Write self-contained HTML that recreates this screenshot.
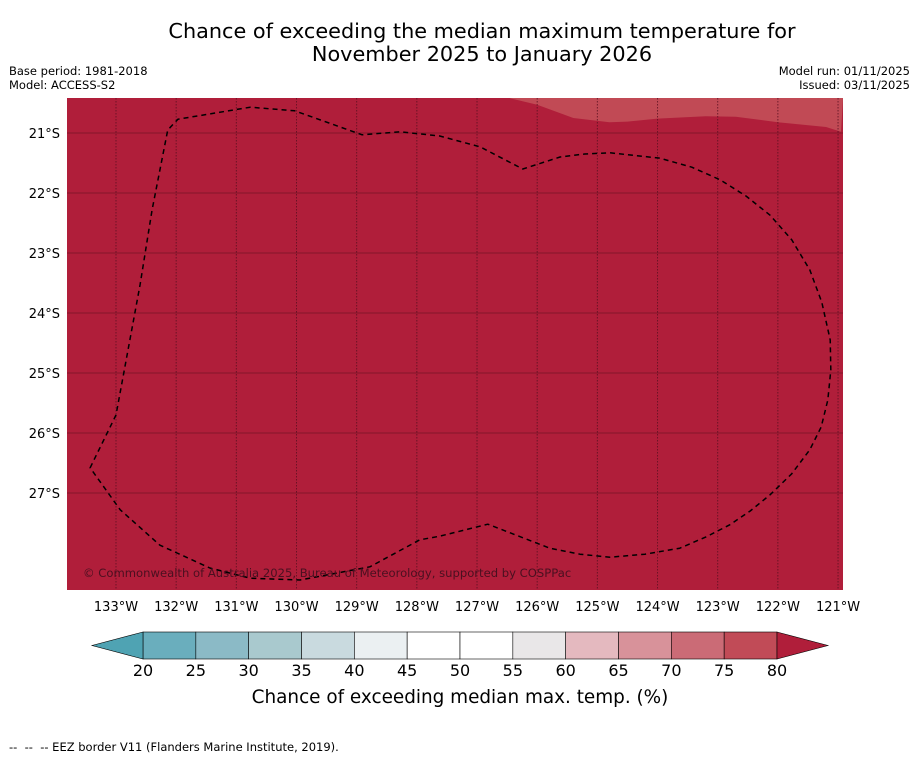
<!DOCTYPE html>
<html><head><meta charset="utf-8"><style>
body{margin:0;background:#fff;width:919px;height:758px;overflow:hidden;font-family:"Liberation Sans","DejaVu Sans",sans-serif}
</style></head><body>
<svg width="919" height="758" xmlns="http://www.w3.org/2000/svg" font-family="'DejaVu Sans','Liberation Sans',sans-serif">
<text x="482" y="38" text-anchor="middle" font-size="20.8">Chance of exceeding the median maximum temperature for</text>
<text x="482" y="61" text-anchor="middle" font-size="20.8">November 2025 to January 2026</text>
<text x="9" y="75" font-size="11.5">Base period: 1981-2018</text>
<text x="9" y="89" font-size="11.5">Model: ACCESS-S2</text>
<text x="910" y="75" font-size="11.5" text-anchor="end">Model run: 01/11/2025</text>
<text x="910" y="89" font-size="11.5" text-anchor="end">Issued: 03/11/2025</text>
<g id="map"></g>
<g id="cbar"></g>
<text x="460" y="703" text-anchor="middle" font-size="18.4">Chance of exceeding median max. temp. (%)</text>
<text x="9" y="751" font-size="11.5" xml:space="preserve">--  --  -- EEZ border V11 (Flanders Marine Institute, 2019).</text>
</svg>
<script>
const NS="http://www.w3.org/2000/svg";
const lonTicks=[133,132,131,130,129,128,127,126,125,124,123,122,121];
const latTicks=[21,22,23,24,25,26,27];
const eezLon=[133.43,133,132.6,132.4,132.14,131.97,130.77,130.03,128.91,128.28,127.62,126.95,126.24,125.62,125.21,124.79,123.96,123.43,122.96,122.53,122.13,121.77,121.47,121.27,121.13,121.12,121.17,121.28,121.47,121.77,122.13,122.46,122.8,123.19,123.63,124.21,124.79,125.29,125.79,126.82,127.62,127.95,128.78,129.94,130.77,131.44,132.27,132.93];
const eezLat=[26.58,25.7,23.53,22.28,20.95,20.77,20.57,20.63,21.03,20.98,21.05,21.23,21.6,21.4,21.35,21.33,21.42,21.57,21.78,22.05,22.37,22.78,23.28,23.82,24.45,24.95,25.45,25.9,26.28,26.68,27.03,27.3,27.53,27.73,27.92,28.02,28.07,28.02,27.92,27.52,27.72,27.78,28.23,28.45,28.42,28.25,27.87,27.28];
const zoneLon=[126.45,126.0,125.4,124.8,124.5,124.0,123.2,122.7,122.0,121.2,120.95];
const zoneLat=[20.42,20.53,20.75,20.82,20.81,20.76,20.72,20.73,20.82,20.9,20.98];
const cbLevels=[20,25,30,35,40,45,50,55,60,65,70,75,80];
const cbColors=["#6aaebd","#8bbac6","#a9c9ce","#c9dadf","#ebf0f2","#ffffff","#ffffff","#e9e7e8","#e4b9bf","#d8929a","#cb6b76","#c14b57"];
const X0=67,X1=843,Y0=98,Y1=590;
const xs=l=>116+(133-l)*60.17;
const ys=l=>133+(l-21)*60;
function mk(t,a,p){const e=document.createElementNS(NS,t);for(const k in a)e.setAttribute(k,a[k]);p.appendChild(e);return e;}
const map=document.getElementById('map');
const bg=mk('rect',{x:X0,y:Y0,width:X1-X0,height:Y1-Y0,fill:'#b01e3a'},map);


let d='M'+xs(zoneLon[0])+','+Y0;
zoneLon.forEach((l,i)=>{d+=' L'+xs(l)+','+ys(zoneLat[i]);});
d+=' L'+X1+','+Y0+' Z';
const zone=mk('path',{d:d,fill:'#c14a55'},map);


lonTicks.forEach(l=>{const x=xs(l);
 const g=mk('line',{x1:x,x2:x,y1:Y0,y2:Y1,stroke:'#5a1020','stroke-width':1,'stroke-dasharray':'1.5,1.5','stroke-opacity':0.8},map);
 
 
 const t=mk('text',{x:x,y:611,'text-anchor':'middle','font-size':13},map);t.textContent=l+'°W';
 
 
});
latTicks.forEach(l=>{const y=ys(l);
 const g=mk('line',{x1:X0,x2:X1,y1:y,y2:y,stroke:'#7a1428','stroke-width':1,'stroke-opacity':0.8},map);
 
 
 const t=mk('text',{x:60,y:y+5,'text-anchor':'end','font-size':13},map);t.textContent=l+'°S';
 
 
});
let p='';eezLon.forEach((l,i)=>{p+=(i?' L':'M')+xs(l)+','+ys(eezLat[i]);});p+=' Z';
const eez=mk('path',{d:p,fill:'none',stroke:'#000','stroke-width':1.5,'stroke-dasharray':'5,4','stroke-linejoin':'round'},map);


const cp=mk('text',{x:83,y:577,'font-size':11.6,fill:'#4a1020'},map);cp.textContent='© Commonwealth of Australia 2025, Bureau of Meteorology, supported by COSPPac';


const cb=document.getElementById('cbar');
const cx=v=>143+(v-20)/60*634;const cy0=632,cy1=659;
cbColors.forEach((c,i)=>{const r=mk('rect',{x:cx(cbLevels[i]),y:cy0,width:cx(cbLevels[i+1])-cx(cbLevels[i]),height:cy1-cy0,fill:c,stroke:'#000','stroke-width':0.6},cb);
 
 
});
const la=mk('polygon',{points:`${cx(20)},${cy0} 92,${(cy0+cy1)/2} ${cx(20)},${cy1}`,fill:'#4fa3b3',stroke:'#000','stroke-width':0.6},cb);


const ra=mk('polygon',{points:`${cx(80)},${cy0} 828,${(cy0+cy1)/2} ${cx(80)},${cy1}`,fill:'#b01e3a',stroke:'#000','stroke-width':0.6},cb);


cbLevels.forEach(v=>{const t=mk('text',{x:cx(v),y:676,'text-anchor':'middle','font-size':16},cb);t.textContent=v;
 
 
});
</script>
</body></html>
